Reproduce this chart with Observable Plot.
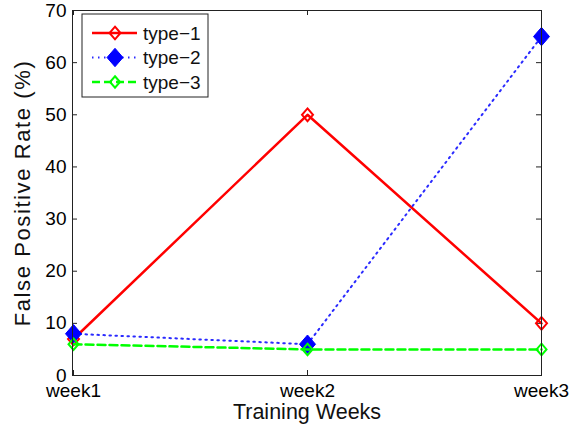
<!DOCTYPE html>
<html>
<head>
<meta charset="utf-8">
<script src="https://cdn.jsdelivr.net/npm/d3@7"></script>
<script src="https://cdn.jsdelivr.net/npm/@observablehq/plot@0.6"></script>
<style>
  html, body { margin: 0; padding: 0; background: #fff; }
  svg { font-family: "Liberation Sans", Arial, sans-serif; }
</style>
</head>
<body>
<div id="chart"></div>
<script>
const weeks = ["week1", "week2", "week3"];
const seriesNames = ["type\u22121", "type\u22122", "type\u22123"];
const type1 = [7, 50, 10];
const type2 = [8, 6, 65];
const type3 = [6, 5, 5];
const yTicks = [0, 10, 20, 30, 40, 50, 60, 70];

const W = 576, H = 431;
const mL = 72, mR = 35, mT = 10, mB = 56;
const fw = W - mL - mR, fh = H - mT - mB;

const rows = (vals, name) => vals.map((v, i) => ({week: weeks[i], value: v, series: name}));
const d1 = rows(type1, seriesNames[0]);
const d2 = rows(type2, seriesNames[1]);
const d3r = rows(type3, seriesNames[2]);

// MATLAB-like diamond (slightly taller than wide)
const diamond = {
  draw(ctx, size) {
    const r = Math.sqrt(size / Math.PI);
    const w = r * 1.0, h = r * 1.15;
    ctx.moveTo(0, -h); ctx.lineTo(w, 0); ctx.lineTo(0, h); ctx.lineTo(-w, 0); ctx.closePath();
  }
};

const styles = [
  {stroke: "#ff0000", strokeWidth: 2.5, dash: null, fill: "none", r: 5.5, mw: 2},
  {stroke: "#2a2aff", strokeWidth: 2, dash: "1.5,4.5", fill: "#0000ff", r: 8, mw: 1, mstroke: "#0000ff"},
  {stroke: "#00ff00", strokeWidth: 2.5, dash: "8,4", fill: "none", r: 5, mw: 2}
];

const chart = Plot.plot({
  width: W, height: H,
  marginLeft: mL, marginRight: mR, marginTop: mT, marginBottom: mB,
  style: {fontFamily: "'Liberation Sans', Arial, sans-serif", background: "white", color: "black"},
  x: {type: "point", domain: weeks, padding: 0},
  y: {domain: [0, 70]},
  marks: [
    Plot.axisX({tickSize: 0, tickPadding: 8, fontSize: 19, label: null}),
    Plot.axisY({ticks: yTicks, tickSize: 0, tickPadding: 6, fontSize: 19, label: null}),
    Plot.tickY(yTicks, {y: d => d, stroke: "#222", insetRight: fw - 5}),
    Plot.tickY(yTicks, {y: d => d, stroke: "#222", insetLeft: fw - 5}),
    Plot.tickX(weeks, {x: d => d, stroke: "#222", insetTop: fh - 5}),
    Plot.tickX(weeks, {x: d => d, stroke: "#222", insetBottom: fh - 5}),
    Plot.line(d1, {x: "week", y: "value", stroke: styles[0].stroke, strokeWidth: styles[0].strokeWidth}),
    Plot.dot(d1, {x: "week", y: "value", symbol: diamond, r: styles[0].r, stroke: styles[0].stroke, strokeWidth: 2, fill: "none"}),
    Plot.line(d2, {x: "week", y: "value", stroke: styles[1].stroke, strokeWidth: styles[1].strokeWidth, strokeDasharray: styles[1].dash}),
    Plot.dot(d2, {x: "week", y: "value", symbol: diamond, r: styles[1].r, stroke: "#0000ff", strokeWidth: 1, fill: "#0000ff"}),
    Plot.line(d3r, {x: "week", y: "value", stroke: styles[2].stroke, strokeWidth: styles[2].strokeWidth, strokeDasharray: styles[2].dash}),
    Plot.dot(d3r, {x: "week", y: "value", symbol: diamond, r: styles[2].r, stroke: styles[2].stroke, strokeWidth: 2, fill: "none"}),
    Plot.frame({stroke: "#222", strokeWidth: 1}),
    Plot.text(["Training Weeks"], {frameAnchor: "bottom", dy: 43, fontSize: 21.5, fill: "#111", textAnchor: "middle"}),
    Plot.text(["False Positive Rate (%)"], {frameAnchor: "left", rotate: -90, dx: -50, fontSize: 22, fill: "#111", textAnchor: "middle", className: "ylab"})
  ]
});

document.getElementById("chart").appendChild(chart);

const svg = d3.select(chart);
svg.selectAll(".ylab text").attr("letter-spacing", "1.6px");

// Legend inside the axes (top-left)
const lg = svg.append("g").attr("class", "legend").attr("text-anchor", "start");
const bx = 82, by = 14, bw = 126, bh = 83;
lg.append("rect").attr("x", bx).attr("y", by).attr("width", bw).attr("height", bh)
  .attr("fill", "white").attr("stroke", "#222").attr("stroke-width", 1);
const symPath = (r) => { const p = d3.path(); diamond.draw(p, Math.PI * r * r); return p.toString(); };
seriesNames.forEach((name, i) => {
  const s = styles[i];
  const cy = 33 + i * 24.5;
  const g = lg.append("g");
  g.append("line").attr("x1", 92).attr("x2", 137).attr("y1", cy).attr("y2", cy)
    .attr("stroke", s.stroke).attr("stroke-width", s.strokeWidth)
    .attr("stroke-dasharray", s.dash);
  g.append("path").attr("d", symPath(s.r)).attr("transform", `translate(115,${cy})`)
    .attr("fill", s.fill).attr("stroke", s.mstroke || s.stroke).attr("stroke-width", s.mw);
  g.append("text").attr("x", 143).attr("y", cy).attr("dy", "0.35em")
    .attr("font-size", 19).attr("fill", "#111").text(name);
});
</script>
</body>
</html>
